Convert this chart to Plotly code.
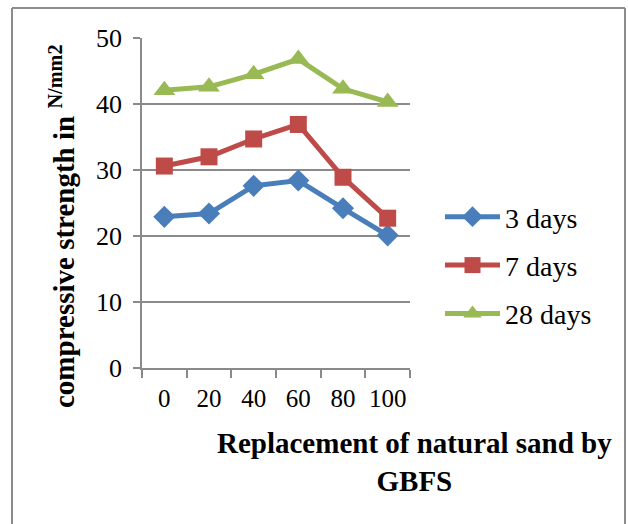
import plotly.graph_objects as go

categories = ["0", "20", "40", "60", "80", "100"]
days3 = [22.9, 23.4, 27.6, 28.4, 24.2, 20.1]
days7 = [30.6, 32.0, 34.7, 36.9, 28.9, 22.7]
days28 = [42.1, 42.6, 44.5, 46.8, 42.3, 40.3]
series_names = ["3 days", "7 days", "28 days"]
colors = ["#4a7ebb", "#be4b48", "#98b954"]
symbols = ["diamond", "square", "triangle-up"]
y_ticks = [0, 10, 20, 30, 40, 50]

FONT = "Liberation Serif, Times New Roman, serif"
GRID = "#8a8a8a"

fig = go.Figure()
for name, vals, col, sym, size in zip(series_names, [days3, days7, days28], colors, symbols, [17, 17, 19]):
    fig.add_trace(go.Scatter(
        x=categories, y=vals, name=name, mode="lines+markers", legendgroup=name,
        line=dict(color=col, width=5),
        marker=dict(symbol=sym, size=size, color=col),
    ))

L, R, T, B = 142, 410, 38, 368
W, H = 628, 524
pw, ph = R - L, B - T
def px(x):
    return (x - L) / pw
def py(y):
    return (B - y) / ph

fig.update_layout(
    width=W, height=H,
    margin=dict(l=L, r=W - R, t=T, b=H - B, pad=0),
    paper_bgcolor="white", plot_bgcolor="white",
    font=dict(family=FONT, color="black", size=26),
    showlegend=True,
    legend=dict(x=px(440), y=py(192), xanchor="left", yanchor="top",
                font=dict(size=28, family=FONT), tracegroupgap=9,
                itemwidth=55, bgcolor="rgba(0,0,0,0)"),
    xaxis=dict(type="category", showgrid=False, showline=True, linecolor=GRID, linewidth=1.5,
               ticks="outside", ticklen=8, tickcolor=GRID, tickwidth=1.5,
               tickson="boundaries", tickfont=dict(size=25, family=FONT), tickangle=0,
               ticklabelstandoff=7, range=[-0.5, 5.5]),
    yaxis=dict(range=[0, 50], tickvals=y_ticks, showgrid=True, gridcolor=GRID, gridwidth=1.5,
               showline=True, linecolor=GRID, linewidth=1.5, zeroline=False,
               ticks="outside", ticklen=7, tickcolor=GRID, tickwidth=1.5,
               tickfont=dict(size=26, family=FONT), ticklabelstandoff=6),
)

fig.add_annotation(
    text="<b>compressive strength in </b><sup><b>N/mm2</b></sup>",
    xref="paper", yref="paper", x=px(62), y=py(226), xanchor="center", yanchor="middle",
    textangle=-90, showarrow=False, font=dict(size=29, family=FONT),
)

fig.add_annotation(
    text="<b>Replacement of natural sand by<br>GBFS</b>",
    xref="paper", yref="paper", x=px(414), y=py(462), xanchor="center", yanchor="middle",
    showarrow=False, font=dict(size=29, family=FONT), align="center",
)

# frame around the chart (top, left, right)
for x0, y0, x1, y1 in [(12, 8, 625, 8), (12, 8, 12, 524), (625, 8, 625, 524)]:
    fig.add_shape(type="line", xref="paper", yref="paper",
                  x0=px(x0), y0=py(y0), x1=px(x1), y1=py(y1),
                  line=dict(color="#8c8c8c", width=2))

fig.write_html("out.html")
